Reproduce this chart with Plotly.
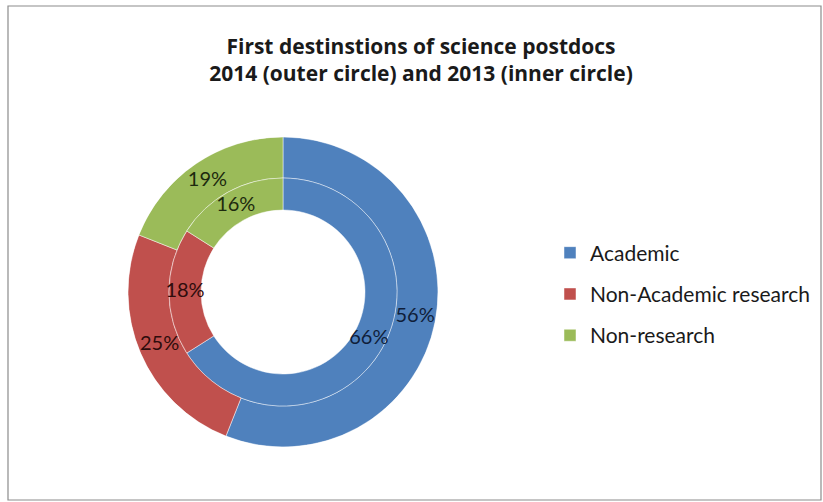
import numpy as np
import plotly.graph_objects as go

categories = ["Academic", "Non-Academic research", "Non-research"]
values_2014 = [56, 25, 19]   # outer circle
values_2013 = [66, 18, 16]   # inner circle
colors = ["#4F81BD", "#C0504D", "#9BBB59"]
text_colors = ["#0f1e3a", "#2e0c0c", "#1d2a0e"]

W, H = 823, 502
cx, cy = 283, 292
r_out, r_mid, r_hole = 155, 114, 82   # ring radii in px (polar radial units)

def mid_angles(vals):
    v = np.asarray(vals, dtype=float)
    return ((np.cumsum(v) - v / 2) / v.sum() * 360).tolist()

def spans(vals):
    v = np.asarray(vals, dtype=float)
    return (v / v.sum() * 360).tolist()

label_font = "Lato, 'Open Sans', sans-serif"
title_font = "'Open Sans', Lato, sans-serif"

th14, w14 = mid_angles(values_2014), spans(values_2014)
th13, w13 = mid_angles(values_2013), spans(values_2013)

fig = go.Figure()
# one trace per category: [outer ring segment (2014), inner ring segment (2013)]
for i, (name, c) in enumerate(zip(categories, colors)):
    fig.add_trace(go.Barpolar(
        name=name, legendgroup=name,
        theta=[th14[i], th13[i]], width=[w14[i], w13[i]],
        r=[r_out - r_mid, r_mid - r_hole], base=[r_mid, r_hole],
        marker=dict(color=c, line=dict(color="rgba(255,255,255,0.8)", width=0.6)),
        customdata=[[2014, values_2014[i]], [2013, values_2013[i]]],
        hovertemplate="%{fullData.name} %{customdata[0]}: %{customdata[1]}%<extra></extra>",
    ))

# data labels in the middle of each ring segment
for vals, th, rr in ((values_2014, th14, (r_mid + r_out) / 2),
                     (values_2013, th13, (r_hole + r_mid) / 2)):
    fig.add_trace(go.Scatterpolar(
        r=[rr] * len(vals), theta=th, mode="text",
        text=[f"{v}%" for v in vals],
        textfont=dict(family=label_font, size=20, color=text_colors),
        showlegend=False, hoverinfo="skip",
    ))

fig.update_layout(
    width=W, height=H,
    margin=dict(l=0, r=0, t=0, b=0),
    paper_bgcolor="white",
    title=dict(
        text="<b>First destinstions of science postdocs<br>2014 (outer circle) and 2013 (inner circle)</b>",
        x=421 / W, xanchor="center", y=1 - 54 / H, yanchor="middle",
        font=dict(family=title_font, size=21, color="#1a1a1a"),
    ),
    polar=dict(
        domain=dict(x=[(cx - r_out) / W, (cx + r_out) / W],
                    y=[(H - cy - r_out) / H, (H - cy + r_out) / H]),
        bgcolor="rgba(0,0,0,0)",
        radialaxis=dict(range=[0, r_out], visible=False, showgrid=False),
        angularaxis=dict(rotation=90, direction="clockwise", visible=False, showgrid=False),
    ),
    legend=dict(
        x=550 / W, xanchor="left", y=1 - 232.5 / H, yanchor="top",
        font=dict(family=label_font, size=21, color="#1a1a1a"),
        tracegroupgap=11, bgcolor="rgba(0,0,0,0)",
    ),
    shapes=[dict(type="rect", xref="paper", yref="paper",
                 x0=8 / W, x1=821 / W, y0=1 - 500 / H, y1=1 - 6 / H,
                 line=dict(color="#8c8c8c", width=1.2))],
)

fig.write_html("out.html", config={"displayModeBar": False},
               post_script="document.body.style.margin='0px';")
